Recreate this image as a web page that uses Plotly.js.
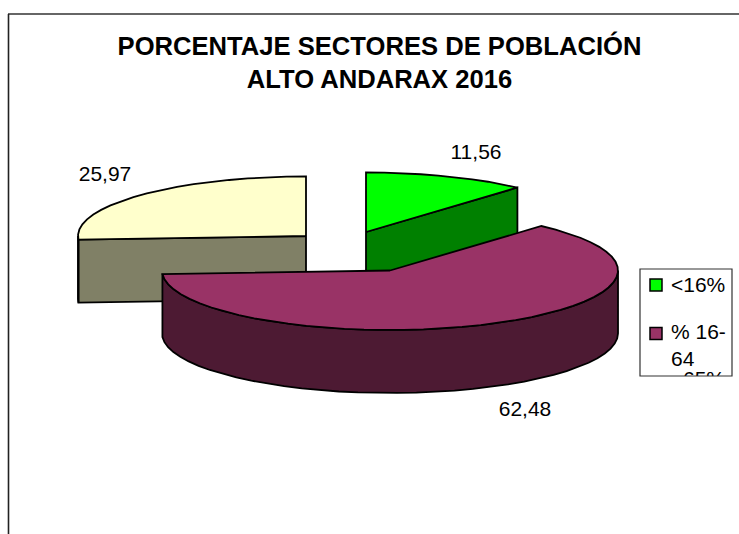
<!DOCTYPE html>
<html>
<head>
<meta charset="utf-8">
<script src="https://cdn.plot.ly/plotly-3.0.0.min.js"></script>
<style>html,body{margin:0;padding:0;background:#fff}#c{width:739px;height:534px}</style>
</head>
<body>
<div id="c"></div>
<script>
// Data
const categories = ['<16%', '% 16-64', '65%'];
const values = [11.56, 62.48, 25.97];
const valueLabels = ['11,56', '62,48', '25,97'];
const chartTitle = 'PORCENTAJE SECTORES DE POBLACIÓN<br>ALTO ANDARAX 2016';

// Styles and geometry
const topColors = ['#00ff00', '#993366', '#ffffcc'];
const sideColors = ['#008000', '#4d1a33', '#808066'];
const centers = [[366, 232], [390, 270.5], [306, 236]];
const rx = 228, ry = 59.5, depth = 63;
const labelPos = [[476, 153.5], [525, 410.5], [105, 175.5]];
const fontName = '"Liberation Sans", Arial, sans-serif';
const fs = 21;

const total = values.reduce((a, b) => a + b, 0);
const rad = d => d * Math.PI / 180;
let start = 0;
const slices = values.map((v, i) => {
  const s = {a0: start, a1: start + v / total * 360, c: centers[i], i};
  start = s.a1;
  return s;
});
const pt = (c, a, dz) => [c[0] + rx * Math.sin(rad(a)), c[1] - ry * Math.cos(rad(a)) + (dz || 0)];
function arc(c, a0, a1, dz) {
  const pts = [], n = Math.max(2, Math.ceil(Math.abs(a1 - a0) / 5));
  for (let k = 0; k <= n; k++) pts.push(pt(c, a0 + (a1 - a0) * k / n, dz));
  return pts;
}
function poly(pts, color) {
  const closed = pts.concat([pts[0]]);
  return {
    x: closed.map(p => p[0]), y: closed.map(p => p[1]),
    type: 'scatter', mode: 'lines', fill: 'toself', fillcolor: color,
    line: {color: '#000', width: 1.8}, hoverinfo: 'skip', showlegend: false
  };
}
// Which radial edge faces the viewer for each slice
const facingEdge = ['a1', null, 'a0'];
function sliceTraces(s) {
  const t = [], side = sideColors[s.i], c = s.c;
  const edge = facingEdge[s.i];
  if (edge) {
    const a = s[edge];
    t.push(poly([c, pt(c, a), pt(c, a, depth), [c[0], c[1] + depth]], side));
  }
  // outer wall, visible between 90 and 270 degrees
  const w0 = Math.max(s.a0, 90), w1 = Math.min(s.a1, 270);
  if (w1 > w0) t.push(poly(arc(c, w0, w1).concat(arc(c, w1, w0, depth)), side));
  // top face
  t.push(poly([c].concat(arc(c, s.a0, s.a1)), topColors[s.i]));
  return t;
}
const traces = [];
[0, 2, 1].forEach(i => traces.push(...sliceTraces(slices[i])));

// Value labels
traces.push({
  x: labelPos.map(p => p[0]), y: labelPos.map(p => p[1]), text: valueLabels,
  type: 'scatter', mode: 'text', textposition: 'middle center',
  textfont: {family: fontName, size: fs, color: '#000'},
  hoverinfo: 'skip', showlegend: false
});
// Legend drawn in place
traces.push({
  x: [656, 656], y: [285, 333.5], type: 'scatter', mode: 'markers',
  marker: {symbol: 'square', size: 12, color: topColors.slice(0, 2), line: {color: '#000', width: 1.5}},
  hoverinfo: 'skip', showlegend: false
});
traces.push({
  x: [671, 671, 671], y: [286.5, 333.5, 360.5],
  text: [categories[0], '% 16-', '64'],
  type: 'scatter', mode: 'text', textposition: 'middle right',
  textfont: {family: fontName, size: fs, color: '#000'},
  hoverinfo: 'skip', showlegend: false
});
traces.push({
  x: [683], y: [381], text: [categories[2]],
  type: 'scatter', mode: 'text', textposition: 'middle right',
  textfont: {family: fontName, size: fs, color: '#000'},
  hoverinfo: 'skip', showlegend: false
});

const hidden = {visible: false, fixedrange: true};
const layout = {
  width: 739, height: 534,
  margin: {l: 0, r: 0, t: 0, b: 0},
  paper_bgcolor: '#fff', plot_bgcolor: '#fff',
  showlegend: false,
  xaxis: Object.assign({range: [0, 739]}, hidden),
  yaxis: Object.assign({range: [534, 0]}, hidden),
  title: {
    text: chartTitle, x: 379.5 / 739, xanchor: 'center', y: 0.897, yanchor: 'top',
    font: {family: fontName, size: 25.6, color: '#000', weight: 'bold'}
  },
  shapes: [
    {type: 'rect', xref: 'x', yref: 'y', x0: 641, x1: 732, y0: 376, y1: 392, fillcolor: '#fff', line: {width: 0}, layer: 'above'},
    {type: 'rect', xref: 'x', yref: 'y', x0: 640, x1: 732, y0: 269, y1: 376, fillcolor: 'rgba(0,0,0,0)', line: {color: '#333', width: 1.2}, layer: 'above'},
    {type: 'line', xref: 'x', yref: 'y', x0: 8, x1: 739, y0: 14, y1: 14, line: {color: '#333', width: 1.6}, layer: 'below'},
    {type: 'line', xref: 'x', yref: 'y', x0: 8.5, x1: 8.5, y0: 14, y1: 534, line: {color: '#222', width: 1.6}, layer: 'below'}
  ]
};
Plotly.newPlot('c', traces, layout, {staticPlot: true, displayModeBar: false});
</script>
</body>
</html>
